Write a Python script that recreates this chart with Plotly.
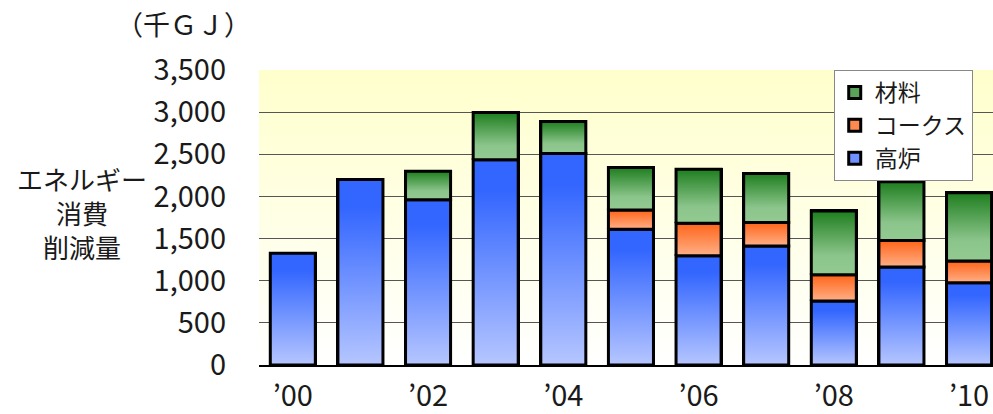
import base64
import plotly.graph_objects as go

# ---- data (thousand GJ) ----
years = ["’00", "’01", "’02", "’03", "’04", "’05", "’06", "’07", "’08", "’09", "’10"]
blast_furnace = [1325, 2200, 1960, 2435, 2510, 1610, 1295, 1412, 760, 1162, 975]
coke = [0, 0, 0, 0, 0, 228, 388, 280, 310, 316, 258]
material = [0, 0, 340, 560, 380, 505, 640, 580, 758, 695, 812]
y_ticks = [0, 500, 1000, 1500, 2000, 2500, 3000, 3500]
y_tick_text = ["0", "500", "1,000", "1,500", "2,000", "2,500", "3,000", "3,500"]

series = [
    ("高炉", blast_furnace, "#7090FF", [[0, "#B6C6FF"], [0.85, "#3366FF"], [1, "#3366FF"]]),
    ("コークス", coke, "#FF8A50", [[0, "#FFB088"], [1, "#FF6418"]]),
    ("材料", material, "#5AA25A", [[0, "#92CA92"], [0.3, "#8CC58C"], [1, "#1E7E1E"]]),
]

FONT = "Noto Sans CJK JP, Noto Sans, sans-serif"
TXT = "#1a1a1a"
HALF = 0.333
xs = list(range(len(years)))

fig = go.Figure()

# stacked bar traces (carry legend + base colour)
for name, vals, col, cs in series:
    fig.add_trace(go.Bar(
        x=xs, y=vals, name=name, width=2 * HALF,
        marker=dict(color=col, line=dict(color="black", width=3)),
        hoverinfo="skip",
    ))

# gradient overlay of each stacked segment, computed from the data
base = [0] * len(years)
for name, vals, col, cs in series:
    for i, v in enumerate(vals):
        if v and v > 0:
            b0, b1 = base[i], base[i] + v
            fig.add_trace(go.Scatter(
                x=[i - HALF, i + HALF, i + HALF, i - HALF, i - HALF],
                y=[b0, b0, b1, b1, b0],
                mode="lines", fill="toself",
                fillgradient=dict(type="vertical", colorscale=cs),
                line=dict(color="black", width=3),
                showlegend=False, hoverinfo="skip",
            ))
            base[i] = b1

svg = ('<svg xmlns="http://www.w3.org/2000/svg" width="100" height="100" preserveAspectRatio="none">'
       '<defs><linearGradient id="g" x1="0" y1="0" x2="0" y2="1">'
       '<stop offset="0" stop-color="#FFFFCC"/><stop offset="1" stop-color="#FFFFFF"/>'
       '</linearGradient></defs><rect width="100" height="100" fill="url(#g)"/></svg>')
bg_src = "data:image/svg+xml;base64," + base64.b64encode(svg.encode()).decode()

def ann(text, x, y, size):
    return dict(text=text, x=x, y=y, xref="paper", yref="paper",
                xanchor="center", yanchor="middle", showarrow=False,
                font=dict(size=size, family=FONT, color=TXT))

fig.update_layout(
    width=993, height=414,
    margin=dict(l=259, r=0, t=70, b=45),
    barmode="stack",
    paper_bgcolor="white",
    plot_bgcolor="rgba(0,0,0,0)",
    font=dict(family=FONT, color=TXT),
    showlegend=True,
    legend=dict(
        x=0.783, y=1.0, xanchor="left", yanchor="top",
        bgcolor="white", bordercolor="#888", borderwidth=1,
        font=dict(size=23, family=FONT, color=TXT),
        traceorder="reversed", tracegroupgap=0,
    ),
    images=[dict(source=bg_src, xref="paper", yref="paper", x=0, y=1,
                 sizex=1, sizey=1, xanchor="left", yanchor="top",
                 sizing="stretch", layer="below")],
    xaxis=dict(
        range=[-0.5, 10.354],
        tickvals=xs[::2], ticktext=years[::2],
        tickfont=dict(size=29, family=FONT, color=TXT),
        showgrid=False, showline=True, linecolor="black", linewidth=2,
        ticks="", ticklabelstandoff=4, zeroline=False,
    ),
    yaxis=dict(
        range=[0, 3500],
        tickvals=y_ticks, ticktext=y_tick_text,
        tickfont=dict(size=29, family=FONT, color=TXT),
        showgrid=True, gridcolor="#555", gridwidth=1,
        showline=False, ticks="", ticklabelstandoff=32, zeroline=False,
    ),
    annotations=[
        ann("（千ＧＪ）", -0.1035, 1.159, 27),
        ann("エネルギー<br>消費<br>削減量", -0.241, 0.518, 26),
    ],
)

fig.write_html("out.html")
